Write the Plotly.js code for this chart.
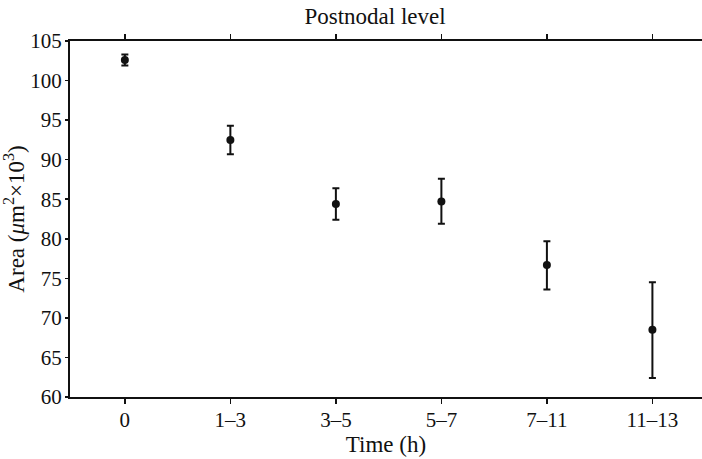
<!DOCTYPE html>
<html><head><meta charset="utf-8">
<script src="https://cdn.plot.ly/plotly-3.0.1.min.js"></script>
<style>html,body{margin:0;padding:0;background:#fff;}#chart{width:702px;height:459px;}</style>
</head><body><div id="chart"></div>
<script>
const timeLabels = ["0", "1\u20133", "3\u20135", "5\u20137", "7\u201311", "11\u201313"];
const areaMean = [102.6, 92.5, 84.4, 84.7, 76.7, 68.5];
const areaErrPlus = [0.7, 1.8, 2.0, 2.9, 3.0, 6.0];
const areaErrMinus = [0.7, 1.8, 2.0, 2.8, 3.1, 6.1];

const font = {family: "Liberation Serif, Times New Roman, serif", color: "#111"};
const trace = {
  x: timeLabels, y: areaMean, type: "scatter", mode: "markers",
  marker: {color: "#111", size: 8},
  error_y: {type: "data", symmetric: false, array: areaErrPlus, arrayminus: areaErrMinus,
            color: "#111", thickness: 2, width: 3.5},
  showlegend: false
};
const layout = {
  width: 702, height: 459,
  margin: {l: 70, r: 0, t: 41, b: 62},
  paper_bgcolor: "#fff", plot_bgcolor: "#fff",
  font: Object.assign({size: 21}, font),
  title: {text: "Postnodal level", x: 0.4826, xref: "paper", xanchor: "center", y: 0.982, yanchor: "top",
          font: Object.assign({size: 23}, font)},
  xaxis: {
    type: "category", range: [-0.52, 5.47],
    showline: true, linecolor: "#111", linewidth: 2, mirror: "ticks",
    ticks: "outside", ticklen: 5, tickwidth: 1.5, tickcolor: "#111",
    ticklabelstandoff: -2,
    showgrid: false, zeroline: false,
    tickfont: Object.assign({size: 21}, font),
    title: {text: "Time (h)", standoff: 3, font: Object.assign({size: 23}, font)}
  },
  yaxis: {
    range: [60, 105], dtick: 5, tick0: 60,
    showline: true, linecolor: "#111", linewidth: 2,
    ticks: "outside", ticklen: 3, tickwidth: 1.5, tickcolor: "#111",
    ticklabelstandoff: -1,
    showgrid: false, zeroline: false,
    tickfont: Object.assign({size: 21}, font),
    title: {text: "Area (<i>\u03bc</i>m<sup>2</sup>\u00d710<sup>3</sup>)", standoff: 2, font: Object.assign({size: 23}, font)}
  }
};
Plotly.newPlot("chart", [trace], layout, {displayModeBar: false, staticPlot: true});
</script></body></html>
